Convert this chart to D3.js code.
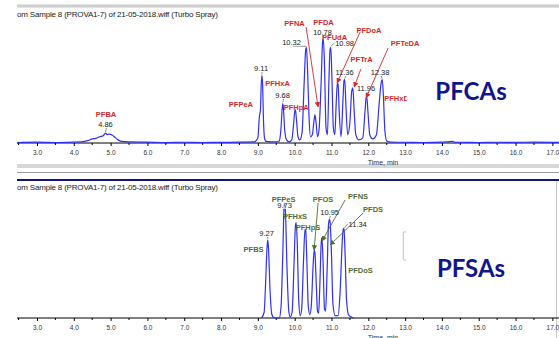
<!DOCTYPE html>
<html>
<head>
<meta charset="utf-8">
<script src="https://cdn.jsdelivr.net/npm/d3@7"></script>
<style>
body{margin:0;background:#fff}
svg{display:block}
</style>
</head>
<body>
<div id="chart"></div>
<script>
// retention time axis ticks
let majorTicks=[3,4,5,6,7,8,9,10,11,12,13,14,15,16,17]
let minorTicks=[2.5,3.5,4.5,5.5,6.5,7.5,8.5,9.5,10.5,11.5,12.5,13.5,14.5,15.5,16.5]

// PFCAs trace (time, min / relative intensity)
let pfcaTime=[2.46,3.0,3.5,4.0,4.2,4.4,4.5,4.6,4.7,4.8,4.86,4.9,4.95,5.05,5.1,5.2,5.3,5.5,6.0,6.5,7.0,7.5,8.0,8.5,8.9,
	9.0,9.04,9.07,9.09,9.11,9.13,9.15,9.18,9.22,
	9.5,9.58,9.63,9.66,9.68,9.70,9.73,9.78,9.85,
	9.92,9.97,10.0,10.02,10.05,10.09,10.14,
	10.2,10.26,10.30,10.32,10.35,10.39,10.43,
	10.48,10.52,10.55,10.58,10.62,10.66,
	10.72,10.76,10.78,10.81,10.85,10.89,
	10.93,10.96,10.98,11.01,11.05,11.09,
	11.13,11.16,11.18,11.21,11.26,
	11.31,11.34,11.36,11.39,11.44,
	11.5,11.55,11.58,11.61,11.66,11.74,
	11.85,11.91,11.94,11.96,11.99,12.04,12.12,
	12.22,12.3,12.35,12.38,12.41,12.45,12.5,12.6,
	13.0,13.5,14.0,14.3,14.35,14.5,15.0,15.5,16.0,16.5,17.18]
let pfcaInt=[0.5,0.8,0.5,0.8,1,2.5,4,4.5,6,7,9.6,8,8.5,7.5,6,3,1.5,1,0.8,0.5,0.7,0.5,0.6,0.8,1,
	5,25,32,55,65,55,25,5,1.5,
	1,2,15,33,38,30,12,3,1,
	3,18,30,32,22,6,3,
	10,60,90,92,70,25,6,
	8,20,27,20,6,12,
	60,98,100,75,15,8,
	60,90,92,65,15,8,
	40,58,56,30,6,
	40,60,61,38,8,
	20,50,53,35,8,3,
	5,30,43,44,30,8,4,
	8,40,58,61,45,12,2,0.8,
	0.7,0.5,0.8,1.5,0.6,0.7,0.5,0.7,0.6,0.8,0.6]

// PFSAs trace
let pfsaTime=[9.1,9.17,9.21,9.25,9.27,9.29,9.33,9.38,9.45,
	9.58,9.63,9.68,9.71,9.73,9.75,9.79,9.84,9.88,
	9.93,9.98,10.02,10.04,10.07,10.11,10.15,
	10.19,10.24,10.28,10.30,10.33,10.37,10.41,
	10.45,10.5,10.53,10.55,10.58,10.62,10.65,
	10.68,10.72,10.74,10.77,10.81,10.84,
	10.88,10.92,10.95,10.97,11.0,11.04,11.1,
	11.18,11.23,11.29,11.32,11.34,11.37,11.41,11.46,11.52,11.6]
let pfsaInt=[0,5,30,62,68,60,25,3,0,
	0,10,60,95,100,92,45,6,1,
	5,45,80,83,65,15,2,
	8,50,77,76,50,10,3,
	10,45,59,57,35,6,4,
	25,65,70,50,8,6,
	40,82,86,80,55,12,2,
	2,20,65,78,77,55,15,3,1,0]

// compound names: [name, time, intensity] text anchor in data units
let pfcaNames=[["PFBA",4.875,25],["PFPeA",8.54,34.6],["PFHxA",9.535,54.8],["PFHpA",10.04,31.7],
	["PFNA",9.997,112.5],["PFDA",10.785,113.5],["PFUdA",11.084,99],["PFDoA",12.02,105.8],
	["PFTrA",11.818,77.9],["PFTeDA",13.0,93.3],["PFHxDA",12.84,40.4]]
let pfsaNames=[["PFBS",8.883,57.4],["PFPeS",9.698,100.9],["PFHxS",10.01,86.1],["PFHpS",10.364,76.5],
	["PFOS",10.77,100.9],["PFNS",11.723,103.5],["PFDS",12.13,92.2],["PFDoS",11.79,39.1]]

// retention time labels: [rt, peak intensity, label time, label intensity]
let pfcaRT=[[4.86,9.6,4.86,15.4],[9.11,65,9.087,69.2],[9.68,38,9.671,43.3],[10.32,92,9.916,94.2],
	[10.78,100,10.758,103.8],[10.98,92,11.356,93.3],[11.36,61,11.356,65.4],[11.96,44,11.94,50],[12.38,61,12.32,65.4]]
let pfsaRT=[[9.27,68,9.236,71.3],[9.73,100,9.725,95.7],[10.95,86,10.95,89.6],[11.34,77,11.71,79.1]]

// arrows: [from time, from int, to time, to int]
let pfcaArrows=[[10.31,111.5,10.636,34.6],[11.777,106.7,11.152,57.7],[11.80,71.2,11.614,53.8],[12.538,91.3,11.94,43.3]]
let pfsaArrows=[[10.636,100,10.527,59.1],[11.37,102.6,10.745,67],[11.86,91.3,10.962,63.5]]

let title="om Sample 8 (PROVA1-7) of 21-05-2018.wiff (Turbo Spray)"

let W=559,H=338
let svg=d3.select('#chart').append('svg').attr('width',W).attr('height',H)
let x=d3.scaleLinear().domain([2.457,17.18]).range([17,559])

let defs=svg.append('defs')
function marker(id,col){
	defs.append('marker').attr('id',id).attr('viewBox','0 0 10 10').attr('refX',9).attr('refY',5)
		.attr('markerWidth',6).attr('markerHeight',6).attr('orient','auto-start-reverse')
		.append('path').attr('d','M0,0L10,5L0,10z').attr('fill',col)
}
marker('arrRed','#d42828')
marker('arrGreen','#4f6e33')
// the PFHxDA tag is cut in the original
defs.append('clipPath').attr('id','cutHx').append('rect').attr('x',0).attr('y',0).attr('width',x(13.04)).attr('height',170)

// frame bands
svg.append('rect').attr('x',17).attr('y',4).attr('width',W-17).attr('height',4).attr('fill','#e2e2e2')
svg.append('line').attr('x1',17).attr('x2',W).attr('y1',6).attr('y2',6).attr('stroke','#bdbdbd')
svg.append('rect').attr('x',17).attr('y',164).attr('width',W-17).attr('height',4).attr('fill','#d8d8d8')
svg.append('line').attr('x1',17).attr('x2',W).attr('y1',172.5).attr('y2',172.5).attr('stroke','#9a9a9a')
svg.append('line').attr('x1',17).attr('x2',W).attr('y1',180).attr('y2',180).attr('stroke','#12127a').attr('stroke-width',2)
svg.append('line').attr('x1',556.5).attr('x2',556.5).attr('y1',181).attr('y2',H).attr('stroke','#c8c8c8')

function panel(o){
	let y=d3.scaleLinear().domain([0,100]).range([o.base,o.base-o.span])
	let g=svg.append('g')

	g.append('text').attr('x',17).attr('y',o.titleY).attr('font-family','Liberation Sans, Arial, sans-serif')
		.attr('font-size',8).attr('fill','#222').attr('textLength',201).text(title)

	// axis
	let ax=d3.axisBottom(x).tickValues(majorTicks).tickSize(3).tickFormat(d3.format('.1f'))
	let axg=g.append('g').attr('transform','translate(0,'+o.base+')').call(ax)
	axg.select('.domain').attr('d','M17,0H559').attr('stroke','#000')
	axg.selectAll('text').attr('font-family','Liberation Sans, Arial, sans-serif').attr('font-size',6.5).attr('fill','#333').attr('y',7)
	axg.selectAll('.minor').data(minorTicks).join('line').attr('class','minor')
		.attr('x1',d=>x(d)).attr('x2',d=>x(d)).attr('y1',0).attr('y2',2).attr('stroke','#000')
	g.append('text').attr('x',383).attr('y',o.timeY).attr('text-anchor','middle')
		.attr('font-family','Liberation Sans, Arial, sans-serif').attr('font-size',7).attr('fill','#333').text('Time, min')

	// trace
	let line=d3.line().x((d,i)=>x(o.time[i])).y(d=>y(d)).curve(d3.curveMonotoneX)
	g.append('path').attr('d',line(o.ints)).attr('fill','none').attr('stroke','#2f2ff5').attr('stroke-width',1.2)

	// rt labels with little leaders
	g.selectAll('.lead').data(o.rt).join('line').attr('class','lead')
		.attr('x1',d=>x(d[2])+(d[2]>d[0]+0.1?-10:1)).attr('y1',d=>y(d[3])+(d[2]>d[0]+0.1?-3:1))
		.attr('x2',d=>x(d[0])).attr('y2',d=>y(d[1])-1).attr('stroke','#444').attr('stroke-width',0.6)
	g.selectAll('.rt').data(o.rt).join('text').attr('class','rt')
		.attr('x',d=>x(d[2])).attr('y',d=>y(d[3])).attr('text-anchor','middle')
		.attr('font-family','Liberation Sans, Arial, sans-serif').attr('font-size',7.5).attr('fill','#222')
		.attr('paint-order','stroke').attr('stroke','#fff').attr('stroke-width',1.5)
		.text(d=>d3.format('.2f')(d[0]))

	// arrows
	g.selectAll('.arr').data(o.arrows).join('line').attr('class','arr')
		.attr('x1',d=>x(d[0])).attr('y1',d=>y(d[1])).attr('x2',d=>x(d[2])).attr('y2',d=>y(d[3]))
		.attr('stroke',o.col).attr('stroke-width',0.9).attr('marker-end','url(#'+o.marker+')')

	// compound names
	g.selectAll('.nm').data(o.names).join('text').attr('class','nm')
		.attr('x',d=>x(d[1])).attr('y',d=>y(d[2])).attr('text-anchor','middle')
		.attr('font-family','Liberation Sans, Arial, sans-serif').attr('font-weight','bold').attr('font-size',7.5)
		.attr('fill',o.col).attr('clip-path',d=>d[0]=='PFHxDA'?'url(#cutHx)':null).text(d=>d[0])

	g.append('text').attr('x',x(14.79)).attr('y',y(o.bigI)).attr('text-anchor','middle')
		.attr('font-family','Lato, Open Sans, sans-serif').attr('font-weight','bold').attr('font-size',24)
		.attr('fill','#10168a').text(o.big)
	return y
}

panel({base:143,span:104,titleY:17,timeY:165,time:pfcaTime,ints:pfcaInt,names:pfcaNames,rt:pfcaRT,
	arrows:pfcaArrows,col:'#d42828',marker:'arrRed',big:'PFCAs',bigI:41.3})
let y2=panel({base:318,span:115,titleY:189.5,timeY:340,time:pfsaTime,ints:pfsaInt,names:pfsaNames,rt:pfsaRT,
	arrows:pfsaArrows,col:'#4f6e33',marker:'arrGreen',big:'PFSAs',bigI:35.7})

// small grey bracket in the lower panel
let bx=x(12.95)
svg.append('path').attr('d','M'+(bx+3)+','+y2(74.8)+'H'+bx+'V'+y2(50.4)+'H'+(bx+3))
	.attr('fill','none').attr('stroke','#c4c4c4').attr('stroke-width',1)
</script>
</body>
</html>
